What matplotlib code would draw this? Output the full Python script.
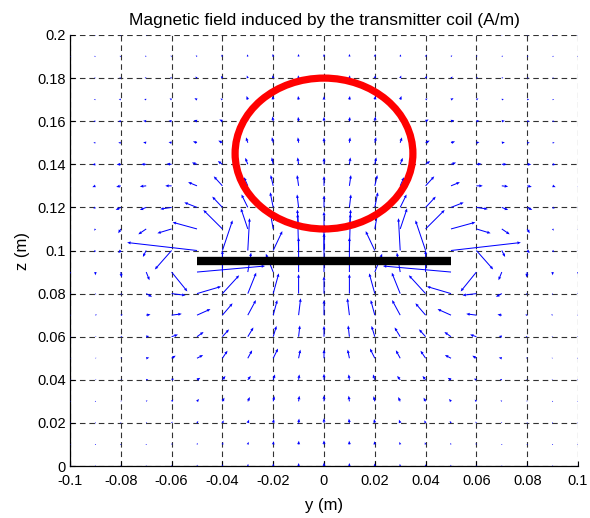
import numpy as np
import matplotlib
matplotlib.use("Agg")
import matplotlib.pyplot as plt
from matplotlib.patches import Ellipse

plt.rcParams['font.family'] = ['Liberation Sans', 'DejaVu Sans']

# quiver grid (m)
y_grid = [-0.10, -0.09, -0.08, -0.07, -0.06, -0.05, -0.04, -0.03, -0.02, -0.01, 0.0,
          0.01, 0.02, 0.03, 0.04, 0.05, 0.06, 0.07, 0.08, 0.09, 0.10]
z_grid = [0.00, 0.01, 0.02, 0.03, 0.04, 0.05, 0.06, 0.07, 0.08, 0.09, 0.10,
          0.11, 0.12, 0.13, 0.14, 0.15, 0.16, 0.17, 0.18, 0.19, 0.20]

# drawn arrow components (mm of axis length), one row per z value
hy = [
    [0.1, 0.1, 0.1, 0.15, 0.2, 0.2, 0.2, 0.15, 0.1, 0.05, 0, -0.05, -0.1, -0.15, -0.2, -0.2, -0.2, -0.15, -0.1, -0.1, -0.1],
    [0.1, 0.1, 0.2, 0.2, 0.3, 0.3, 0.3, 0.3, 0.2, 0.1, 0, -0.1, -0.2, -0.3, -0.3, -0.3, -0.3, -0.2, -0.2, -0.1, -0.1],
    [0.1, 0.2, 0.2, 0.3, 0.4, 0.5, 0.5, 0.5, 0.3, 0.2, 0, -0.2, -0.3, -0.5, -0.5, -0.5, -0.4, -0.3, -0.2, -0.2, -0.1],
    [0.2, 0.3, 0.3, 0.5, 0.7, 0.8, 0.8, 0.8, 0.5, 0.3, 0, -0.3, -0.5, -0.8, -0.8, -0.8, -0.7, -0.5, -0.3, -0.3, -0.2],
    [0.2, 0.4, 0.4, 0.8, 1.0, 1.3, 1.2, 1.2, 0.7, 0.3, 0, -0.3, -0.7, -1.2, -1.2, -1.3, -1.0, -0.8, -0.4, -0.4, -0.2],
    [0.2, 0.4, 0.5, 1.2, 1.6, 2.4, 2.0, 1.7, 1.9, 0.7, 0, -0.7, -1.9, -1.7, -2.0, -2.4, -1.6, -1.2, -0.5, -0.4, -0.2],
    [0.2, 0.4, 0.6, 1.2, 2.5, 2.6, 2.6, 2.2, 1.3, 0.5, 0, -0.5, -1.3, -2.2, -2.6, -2.6, -2.5, -1.2, -0.6, -0.4, -0.2],
    [0.3, 0.6, 0.8, 1.7, 4.0, 5.3, 4.0, 3.2, 1.6, 0.8, 0, -0.8, -1.6, -3.2, -4.0, -5.3, -4.0, -1.7, -0.8, -0.6, -0.3],
    [0.2, 0.3, 0.5, 2.3, 5.5, 9.5, 6.6, 3.3, 2.2, 0, 0, 0, -2.2, -3.3, -6.6, -9.5, -5.5, -2.3, -0.5, -0.3, -0.2],
    [0, 0, 0.3, 1.3, 6.2, 26.8, 0, 1.3, -2.9, 0, 0, 0, 2.9, -1.3, 0, -26.8, -6.2, -1.3, -0.3, 0, 0],
    [-0.3, -0.6, -1.0, -1.3, -6.6, -27.5, 4.0, 0.7, 3.6, -0.4, 0, 0.4, -3.6, -0.7, -4.0, 27.5, 6.6, 1.3, 1.0, 0.6, 0.3],
    [-0.2, -0.5, -1.0, -3.1, -5.6, -9.6, -7.5, -2.7, -1.3, -0.5, 0, 0.5, 1.3, 2.7, 7.5, 9.6, 5.6, 3.1, 1.0, 0.5, 0.2],
    [-0.5, -0.8, -2.0, -2.5, -4.5, -5.0, -4.0, -2.5, -1.2, -0.6, 0, 0.6, 1.2, 2.5, 4.0, 5.0, 4.5, 2.5, 2.0, 0.8, 0.5],
    [-0.8, -1.2, -1.8, -2.5, -2.5, -3.5, -3.4, -1.5, -1.0, -0.6, 0, 0.6, 1.0, 1.5, 3.4, 3.5, 2.5, 2.5, 1.8, 1.2, 0.8],
    [-0.8, -1.2, -1.6, -2.0, -2.0, -2.0, -1.8, -1.0, -0.6, -0.4, 0, 0.4, 0.6, 1.0, 1.8, 2.0, 2.0, 2.0, 1.6, 1.2, 0.8],
    [-0.5, -0.8, -1.0, -1.2, -1.2, -1.6, -1.6, -0.7, -0.5, -0.3, 0, 0.3, 0.5, 0.7, 1.6, 1.6, 1.2, 1.2, 1.0, 0.8, 0.5],
    [-0.6, -0.8, -1.0, -1.2, -1.2, -1.3, -1.2, -0.6, -0.3, -0.2, 0, 0.2, 0.3, 0.6, 1.2, 1.3, 1.2, 1.2, 1.0, 0.8, 0.6],
    [-0.4, -0.6, -0.8, -0.8, -0.8, -1.0, -0.8, -0.5, -0.3, -0.2, 0, 0.2, 0.3, 0.5, 0.8, 1.0, 0.8, 0.8, 0.8, 0.6, 0.4],
    [-0.4, -0.5, -0.6, -0.6, -0.6, -0.7, -0.6, -0.4, -0.3, -0.2, 0, 0.2, 0.3, 0.4, 0.6, 0.7, 0.6, 0.6, 0.6, 0.5, 0.4],
    [-0.3, -0.5, -0.5, -0.5, -0.4, -0.5, -0.4, -0.3, -0.2, -0.1, 0, 0.1, 0.2, 0.3, 0.4, 0.5, 0.4, 0.5, 0.5, 0.5, 0.3],
    [-0.2, -0.3, -0.3, -0.3, -0.3, -0.3, -0.3, -0.2, -0.2, -0.1, 0, 0.1, 0.2, 0.2, 0.3, 0.3, 0.3, 0.3, 0.3, 0.3, 0.2],
]
hz = [
    [0.2, 0.2, 0.3, 0.4, 0.5, 0.6, 0.8, 1.0, 1.2, 1.4, 1.6, 1.4, 1.2, 1.0, 0.8, 0.6, 0.5, 0.4, 0.3, 0.2, 0.2],
    [0.2, 0.2, 0.3, 0.4, 0.6, 0.7, 1.0, 1.2, 1.5, 1.7, 1.9, 1.7, 1.5, 1.2, 1.0, 0.7, 0.6, 0.4, 0.3, 0.2, 0.2],
    [0.1, 0.2, 0.3, 0.4, 0.6, 0.9, 1.2, 1.5, 1.8, 2.0, 2.2, 2.0, 1.8, 1.5, 1.2, 0.9, 0.6, 0.4, 0.3, 0.2, 0.1],
    [0.2, 0.2, 0.4, 0.5, 0.8, 1.1, 1.7, 2.0, 2.4, 2.6, 2.8, 2.6, 2.4, 2.0, 1.7, 1.1, 0.8, 0.5, 0.4, 0.2, 0.2],
    [0.1, 0.1, 0.2, 0.3, 0.5, 0.9, 1.8, 1.8, 2.5, 2.5, 2.8, 2.5, 2.5, 1.8, 1.8, 0.9, 0.5, 0.3, 0.2, 0.1, 0.1],
    [0.2, 0.2, 0.3, 0.3, 1.2, 1.5, 3.5, 3.7, 4.5, 4.0, 4.0, 4.0, 4.5, 3.7, 3.5, 1.5, 1.2, 0.3, 0.3, 0.2, 0.2],
    [0.1, 0.1, 0.2, 0.3, 1.0, 2.2, 3.4, 4.3, 5.0, 5.2, 5.0, 5.2, 5.0, 4.3, 3.4, 2.2, 1.0, 0.3, 0.2, 0.1, 0.1],
    [0.2, 0.3, 0.2, 0.3, 0.6, 2.8, 5.5, 7.0, 7.0, 7.8, 7.0, 7.8, 7.0, 7.0, 5.5, 2.8, 0.6, 0.3, 0.2, 0.3, 0.2],
    [-0.3, -0.5, -0.5, -1.5, -0.8, 3.3, 8.5, 9.7, 9.4, 9.0, 8.0, 9.0, 9.4, 9.7, 8.5, 3.3, -0.8, -1.5, -0.5, -0.5, -0.3],
    [-1.0, -1.5, -2.5, -3.8, -9.0, 2.8, 10, 9.0, 8.5, 16, 18, 16, 8.5, 9.0, 10, 2.8, -9.0, -3.8, -2.5, -1.5, -1.0],
    [-0.5, -0.8, -1.2, -3.0, -8.8, 3.7, 14, 15, 9.0, 17, 10, 17, 9.0, 15, 14, 3.7, -8.8, -3.0, -1.2, -0.8, -0.5],
    [-0.5, -0.8, -2.0, -2.5, -2.0, 3.1, 8.8, 9.5, 8.5, 9.0, 8.0, 9.0, 8.5, 9.5, 8.8, 3.1, -2.0, -2.5, -2.0, -0.8, -0.5],
    [-0.5, -0.6, -1.2, -1.2, -0.8, 2.3, 5.0, 6.0, 7.0, 6.0, 5.5, 6.0, 7.0, 6.0, 5.0, 2.3, -0.8, -1.2, -1.2, -0.6, -0.5],
    [-0.5, -0.6, -0.5, -0.3, 0, 1.7, 4.4, 4.0, 5.0, 5.0, 4.5, 5.0, 5.0, 4.0, 4.4, 1.7, 0, -0.3, -0.5, -0.6, -0.5],
    [-0.1, -0.2, -0.1, 0, 0.2, 0.8, 1.5, 3.0, 3.2, 3.2, 3.0, 3.2, 3.2, 3.0, 1.5, 0.8, 0.2, 0, -0.1, -0.2, -0.1],
    [0, 0, 0, 0.2, 0.3, 0.6, 1.0, 2.5, 2.6, 2.5, 2.4, 2.5, 2.6, 2.5, 1.0, 0.6, 0.3, 0.2, 0, 0, 0],
    [0, 0, 0, 0.2, 0.2, 0.5, 0.8, 2.2, 2.2, 2.0, 2.0, 2.0, 2.2, 2.2, 0.8, 0.5, 0.2, 0.2, 0, 0, 0],
    [0.2, 0.2, 0.3, 0.3, 0.6, 0.7, 0.5, 1.7, 1.8, 1.7, 1.6, 1.7, 1.8, 1.7, 0.5, 0.7, 0.6, 0.3, 0.3, 0.2, 0.2],
    [0.2, 0.2, 0.2, 0.3, 0.4, 0.7, 1.0, 1.2, 1.3, 1.3, 1.2, 1.3, 1.3, 1.2, 1.0, 0.7, 0.4, 0.3, 0.2, 0.2, 0.2],
    [0.3, 0.3, 0.3, 0.4, 0.5, 0.6, 0.9, 1.0, 1.2, 1.2, 1.2, 1.2, 1.2, 1.0, 0.9, 0.6, 0.5, 0.4, 0.3, 0.3, 0.3],
    [0.2, 0.2, 0.3, 0.3, 0.4, 0.5, 0.6, 0.7, 0.8, 0.8, 0.8, 0.8, 0.8, 0.7, 0.6, 0.5, 0.4, 0.3, 0.3, 0.2, 0.2],
]

# coil cross-section and plate
coil_center = (0.0, 0.145)
coil_radius = 0.035
plate_y = [-0.05, 0.05]
plate_z = [0.095, 0.095]

x_ticks = [-0.1, -0.08, -0.06, -0.04, -0.02, 0, 0.02, 0.04, 0.06, 0.08, 0.1]
x_labels = ['-0.1', '-0.08', '-0.06', '-0.04', '-0.02', '0', '0.02', '0.04', '0.06', '0.08', '0.1']
z_ticks = [0, 0.02, 0.04, 0.06, 0.08, 0.1, 0.12, 0.14, 0.16, 0.18, 0.2]
z_labels = ['0', '0.02', '0.04', '0.06', '0.08', '0.1', '0.12', '0.14', '0.16', '0.18', '0.2']

fig = plt.figure(figsize=(5.9, 5.18), dpi=100)
ax = fig.add_axes([70/590, 52/518, 508/590, 431/518])

Y, Z = np.meshgrid(y_grid, z_grid)
ax.quiver(Y, Z, np.array(hy), np.array(hz), color='blue',
          angles='xy', scale_units='xy', scale=1000,
          width=0.002, headwidth=3, headlength=3.5, headaxislength=3.2, zorder=3)

ax.add_patch(Ellipse(coil_center, 2*coil_radius, 2*coil_radius, fill=False,
                     edgecolor='red', lw=5.2, zorder=4))
ax.plot(plate_y, plate_z, color='black', lw=6, solid_capstyle='butt', zorder=4)

ax.set_xlim(-0.1, 0.1)
ax.set_ylim(0, 0.2)
ax.set_xticks(x_ticks)
ax.set_xticklabels(x_labels)
ax.set_yticks(z_ticks)
ax.set_yticklabels(z_labels)
ax.tick_params(direction='in', length=3.5, width=0.8, labelsize=10.5, colors='black')
ax.tick_params(axis='x', pad=6)
ax.tick_params(axis='y', pad=3)
ax.grid(True, color='0.2', lw=0.8, linestyle=(0, (5, 3.5)))
ax.set_axisbelow(True)
for s in ['top', 'right']:
    ax.spines[s].set_visible(False)
for s in ['left', 'bottom']:
    ax.spines[s].set_linewidth(0.9)

ax.set_xlabel('y (m)', fontsize=12, labelpad=7)
ax.set_ylabel('z (m)', fontsize=12, labelpad=5)
ax.set_title('Magnetic field induced by the transmitter coil (A/m)', fontsize=12.5, pad=7)

fig.savefig('out.png', dpi=100)
